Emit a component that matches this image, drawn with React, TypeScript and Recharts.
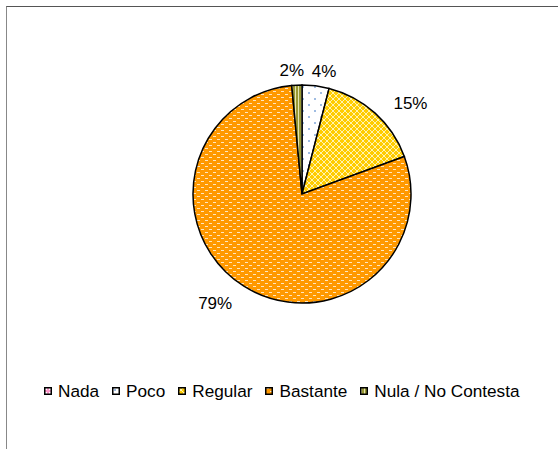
import React from 'react';
import { PieChart, Pie, Cell, Legend } from 'recharts';

const categories = ['Nada', 'Poco', 'Regular', 'Bastante', 'Nula / No Contesta'];
const values = [0, 4.0, 15.4, 79.1, 1.5];
const patternIds = ['pNada', 'pPoco', 'pRegular', 'pBastante', 'pNula'];

const data = categories.map((name, i) => ({ name, value: values[i] }));
const FONT = '"Liberation Sans", Arial, sans-serif';
const RAD = Math.PI / 180;

function renderLabel(props: any) {
  const { cx, cy, midAngle, outerRadius, value, percent } = props;
  if (!value) return null;
  const txt = Math.round(percent * 100) + '%';
  const w = txt.length * 11.5;
  const h = 12;
  const dx = Math.cos(-midAngle * RAD);
  const dy = Math.sin(-midAngle * RAD);
  const x = cx + (outerRadius + 31) * dx + (dx * w) / 2 + Math.sign(dx) * 3;
  const y = cy + (outerRadius + 11) * dy + (dy * h) / 2 + 2.5;
  return (
    <text x={x} y={y} textAnchor="middle" dominantBaseline="central" fill="#000" fontSize={17} fontFamily={FONT}>
      {txt}
    </text>
  );
}

function LegendContent() {
  return (
    <div style={{ display: 'flex', alignItems: 'center', fontFamily: FONT, fontSize: 17.2, color: '#000', lineHeight: '20px', whiteSpace: 'nowrap' }}>
      {categories.map((c, i) => (
        <div key={c} style={{ display: 'flex', alignItems: 'center', marginRight: 13 }}>
          <svg width={8} height={8} style={{ marginRight: 6, display: 'block' }}>
            <rect x={0.75} y={0.75} width={6.5} height={6.5} fill={`url(#${patternIds[i]})`} stroke="#000" strokeWidth={1.5} />
          </svg>
          <span>{c}</span>
        </div>
      ))}
    </div>
  );
}

export default function App() {
  return (
    <div style={{ position: 'absolute', left: 0, top: 0, width: 558, height: 449, overflow: 'hidden', background: '#fff' }}>
      <div style={{ position: 'absolute', left: 6, top: 6, width: 600, height: 500, borderTop: '1px solid #555', borderLeft: '1px solid #888', boxSizing: 'border-box' }} />
      <div style={{ position: 'absolute', left: 0, top: 0 }}>
        <PieChart width={558} height={449} margin={{ top: 0, right: 0, bottom: 0, left: 0 }}>
          <defs>
            <pattern id="pNada" width="4" height="4" patternUnits="userSpaceOnUse">
              <rect width="4" height="4" fill="#FF99CC" />
              <rect x="1" y="1" width="2" height="2" fill="#fff" />
            </pattern>
            <pattern id="pPoco" width="12" height="12" patternUnits="userSpaceOnUse">
              <rect width="12" height="12" fill="#fff" />
              <circle cx="3" cy="3" r="1" fill="#7FA6D9" />
              <circle cx="9" cy="9" r="1" fill="#7FA6D9" />
            </pattern>
            <pattern id="pRegular" width="6" height="6" patternUnits="userSpaceOnUse">
              <rect width="6" height="6" fill="#FFCC00" />
              <path d="M0 0 L6 6 M6 0 L0 6" stroke="#FFF3B0" strokeWidth="1" />
            </pattern>
            <pattern id="pBastante" width="8" height="6" patternUnits="userSpaceOnUse">
              <rect width="8" height="6" fill="#FF9900" />
              <rect x="1" y="1" width="3" height="1" fill="#FFE6C0" />
              <rect x="5" y="4" width="3" height="1" fill="#FFE6C0" />
            </pattern>
            <pattern id="pNula" width="3" height="3" patternUnits="userSpaceOnUse">
              <rect width="3" height="3" fill="#999933" />
              <rect x="1" y="0" width="1" height="3" fill="#E6E6B3" />
            </pattern>
          </defs>
          <Pie
            data={data}
            dataKey="value"
            nameKey="name"
            cx={302}
            cy={194}
            outerRadius={109}
            startAngle={90}
            endAngle={-270}
            stroke="#000"
            strokeWidth={1.5}
            label={renderLabel}
            labelLine={false}
            isAnimationActive={false}
          >
            {data.map((d, i) => (
              <Cell key={d.name} fill={`url(#${patternIds[i]})`} />
            ))}
          </Pie>
          <Legend content={<LegendContent />} wrapperStyle={{ position: 'absolute', left: 44, top: 381, width: 520 }} />
        </PieChart>
      </div>
    </div>
  );
}
